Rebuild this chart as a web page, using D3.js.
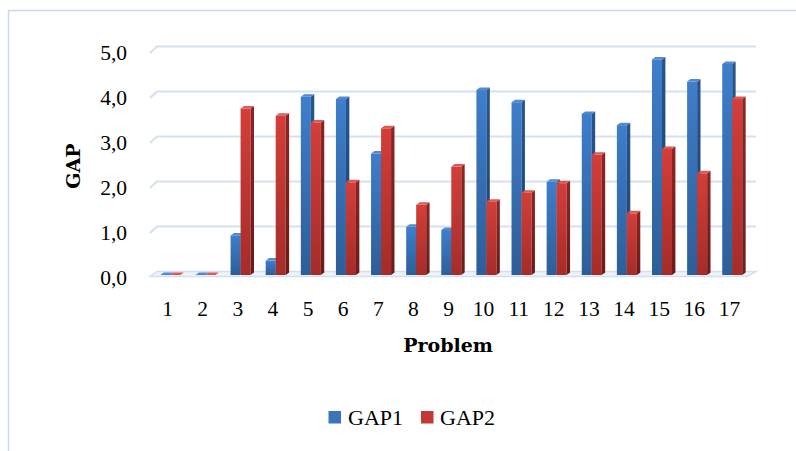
<!DOCTYPE html>
<html>
<head>
<meta charset="utf-8">
<script src="https://cdn.jsdelivr.net/npm/d3@7/dist/d3.min.js"></script>
<style>
  html, body { margin: 0; padding: 0; background: #ffffff; }
  svg { display: block; }
</style>
</head>
<body>
<svg id="chart" width="796" height="451"></svg>
<script>
// Problem numbers and the two GAP series
const problems = ["1","2","3","4","5","6","7","8","9","10","11","12","13","14","15","16","17"];
const gap1 = [0, 0, 0.88, 0.32, 3.96, 3.91, 2.70, 1.07, 1.00, 4.11, 3.84, 2.07, 3.58, 3.33, 4.79, 4.30, 4.69];
const gap2 = [0, 0, 3.70, 3.54, 3.39, 2.06, 3.26, 1.56, 2.41, 1.63, 1.83, 2.04, 2.67, 1.37, 2.80, 2.26, 3.91];
const seriesNames = ["GAP1", "GAP2"];
const yTicks = [0, 1, 2, 3, 4, 5];

const svg = d3.select("#chart");
const W = 796, H = 451;

// outer chart frame
svg.append("path")
  .attr("d", `M8.5,${H} L8.5,10.5 L${W},10.5`)
  .attr("fill", "none").attr("stroke", "#c9d9ee").attr("stroke-width", 1.5);

// perspective: the back wall sits up and to the right of the front edge
const depthX = 7, depthY = -5;
const frontLeft = 150, frontRight = 747;
const backLeft = frontLeft + depthX, backRight = 756;

const y = d3.scaleLinear().domain([0, 5]).range([276.5, 51.5]);

const x = d3.scaleBand().domain(problems)
  .range([frontLeft, frontRight])
  .paddingInner(0.43).paddingOuter(0.215);
const xs = d3.scaleBand().domain(seriesNames).range([0, x.bandwidth()]);
const xLabel = d3.scaleBand().domain(problems).range([frontLeft, frontRight]);

// gradients for the column faces
const defs = svg.append("defs");
function grad(id, top, bottom) {
  const g = defs.append("linearGradient").attr("id", id)
    .attr("x1", 0).attr("y1", 0).attr("x2", 0).attr("y2", 1);
  g.append("stop").attr("offset", "0%").attr("stop-color", top);
  g.append("stop").attr("offset", "100%").attr("stop-color", bottom);
}
grad("g1front", "#3e7ecb", "#2d5e98");
grad("g1side", "#28558e", "#1d416d");
grad("g2front", "#d33e3a", "#a52c29");
grad("g2side", "#8e2522", "#6c1a18");

const styles = {
  GAP1: { front: "url(#g1front)", side: "url(#g1side)", top: "#4f8ad2", solid: "#3a74bd" },
  GAP2: { front: "url(#g2front)", side: "url(#g2side)", top: "#dc5a55", solid: "#c23834" }
};

// floor
const floorPts = [
  [frontLeft, y(0)], [frontRight, y(0)],
  [backRight, y(0) + depthY], [backLeft, y(0) + depthY]
];
svg.append("polygon")
  .attr("points", floorPts.map(p => p.join(",")).join(" "))
  .attr("fill", "#eef3fa").attr("stroke", "#d3dff0").attr("stroke-width", 1.5);

// gridlines on the back wall with the short slant on the side wall
const grid = svg.append("g");
yTicks.filter(v => v > 0).forEach(v => {
  const yb = y(v) + depthY;
  grid.append("path")
    .attr("d", `M${frontLeft},${y(v) + 1.5} L${backLeft},${yb} L${backRight},${yb}`)
    .attr("fill", "none").attr("stroke", "#d5e1f1").attr("stroke-width", 2.2);
});

// y tick labels
svg.append("g").selectAll("text").data(yTicks).join("text")
  .attr("x", 127).attr("y", d => y(d) + 1)
  .attr("text-anchor", "end").attr("dominant-baseline", "central")
  .attr("font-family", "Liberation Serif, serif").attr("font-size", 21.5)
  .attr("fill", "#000")
  .text(d => d3.format(".1f")(d).replace(".", ","));

// x tick labels
svg.append("g").selectAll("text").data(problems).join("text")
  .attr("x", d => xLabel(d) + xLabel.bandwidth() / 2)
  .attr("y", 309)
  .attr("text-anchor", "middle").attr("dominant-baseline", "central")
  .attr("font-family", "Liberation Serif, serif").attr("font-size", 21.5)
  .attr("fill", "#000")
  .text(d => d);

// columns: front face, right side and top cap
const barDX = 2.8, barDY = -1.5;   // columns stand a little behind the front edge
const capDX = 3.4, capDY = -2.5;   // column depth
const rows = [];
problems.forEach((p, i) => {
  rows.push({ p, s: "GAP1", v: gap1[i] });
  rows.push({ p, s: "GAP2", v: gap2[i] });
});
const bars = svg.append("g");
rows.forEach(d => {
  const st = styles[d.s];
  const x0 = x(d.p) + xs(d.s) + barDX;
  const w = xs.bandwidth();
  const base = y(0) + barDY;
  const top = y(d.v) + barDY;
  const g = bars.append("g");
  if (base - top > 0.5) {
    g.append("rect").attr("x", x0).attr("y", top)
      .attr("width", w).attr("height", base - top).attr("fill", st.front);
    g.append("polygon")
      .attr("points", [[x0 + w, top], [x0 + w + capDX, top + capDY],
                       [x0 + w + capDX, base + capDY], [x0 + w, base]].map(q => q.join(",")).join(" "))
      .attr("fill", st.side);
  }
  g.append("polygon")
    .attr("points", [[x0, top], [x0 + capDX, top + capDY],
                     [x0 + w + capDX, top + capDY], [x0 + w, top]].map(q => q.join(",")).join(" "))
    .attr("fill", st.top);
});

// axis titles
svg.append("text")
  .attr("x", 448).attr("y", 352)
  .attr("text-anchor", "middle")
  .attr("font-family", "DejaVu Serif, serif").attr("font-weight", "bold").attr("font-size", 19)
  .attr("fill", "#000").text("Problem");

svg.append("text")
  .attr("transform", "translate(80,166) rotate(-90)")
  .attr("text-anchor", "middle")
  .attr("font-family", "DejaVu Serif, serif").attr("font-weight", "bold").attr("font-size", 19)
  .attr("fill", "#000").text("GAP");

// legend
const legend = svg.append("g");
const legendItems = [
  { name: "GAP1", sx: 328.5, tx: 348 },
  { name: "GAP2", sx: 421, tx: 440 }
];
legendItems.forEach(it => {
  legend.append("rect").attr("x", it.sx).attr("y", 411)
    .attr("width", 12.5).attr("height", 12.5)
    .attr("fill", styles[it.name].solid);
  legend.append("text").attr("x", it.tx).attr("y", 424.5)
    .attr("font-family", "Liberation Serif, serif").attr("font-size", 22)
    .attr("fill", "#000").text(it.name);
});
</script>
</body>
</html>
